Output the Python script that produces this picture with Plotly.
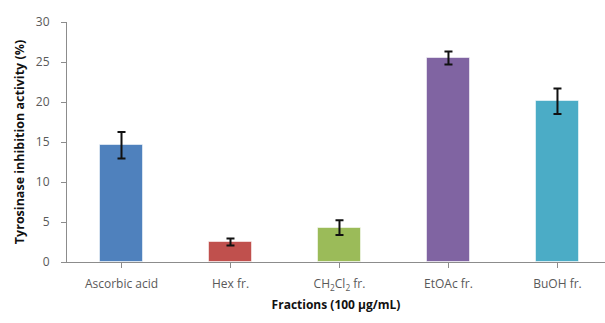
import plotly.graph_objects as go

# Tyrosinase inhibition by solvent fraction (mean ± SD)
categories = ["Ascorbic acid", "Hex fr.", "CH<sub>2</sub>Cl<sub>2</sub> fr.", "EtOAc fr.", "BuOH fr."]
inhibition = [14.6, 2.5, 4.3, 25.5, 20.1]
errors = [1.65, 0.45, 0.92, 0.8, 1.6]
colors = ["#4F81BD", "#C0504D", "#9BBB59", "#8064A2", "#4BACC6"]
y_ticks = [0, 5, 10, 15, 20, 25, 30]

fig = go.Figure(
    go.Bar(
        x=list(range(len(categories))),
        y=inhibition,
        width=0.39,
        marker=dict(color=colors, line=dict(color="rgba(255,255,255,0.55)", width=1)),
        error_y=dict(type="data", array=errors, visible=True,
                     color="#111111", thickness=2, width=4),
    )
)

axis_gray = "#8C8C8C"
tick_font = dict(family="Open Sans", size=12, color="#595959")

fig.update_layout(
    width=605,
    height=323,
    margin=dict(l=67, r=0, t=22, b=61),
    paper_bgcolor="white",
    plot_bgcolor="white",
    showlegend=False,
    bargap=0,
    xaxis=dict(
        tickmode="array",
        tickvals=list(range(len(categories))),
        ticktext=categories,
        range=[-0.5, 4.436],
        showline=True,
        linecolor=axis_gray,
        linewidth=1,
        ticks="outside",
        tickson="boundaries",
        ticklen=5,
        tickcolor=axis_gray,
        tickfont=tick_font,
        ticklabelstandoff=6,
        showgrid=False,
        zeroline=False,
        title=dict(text="<b>Fractions (100 μg/mL)</b>",
                   font=dict(family="Open Sans", size=12, color="#111111"),
                   standoff=8),
    ),
    yaxis=dict(
        range=[0, 30],
        tickvals=y_ticks,
        showline=True,
        linecolor=axis_gray,
        linewidth=1,
        ticks="outside",
        ticklen=5,
        tickcolor=axis_gray,
        tickfont=tick_font,
        ticklabelstandoff=9,
        showgrid=False,
        zeroline=False,
        title=dict(text="<b>Tyrosinase inhibition activity (%)</b>",
                   font=dict(family="Open Sans", size=12.5, color="#111111"),
                   standoff=8),
    ),
)

fig.write_html("out.html")
